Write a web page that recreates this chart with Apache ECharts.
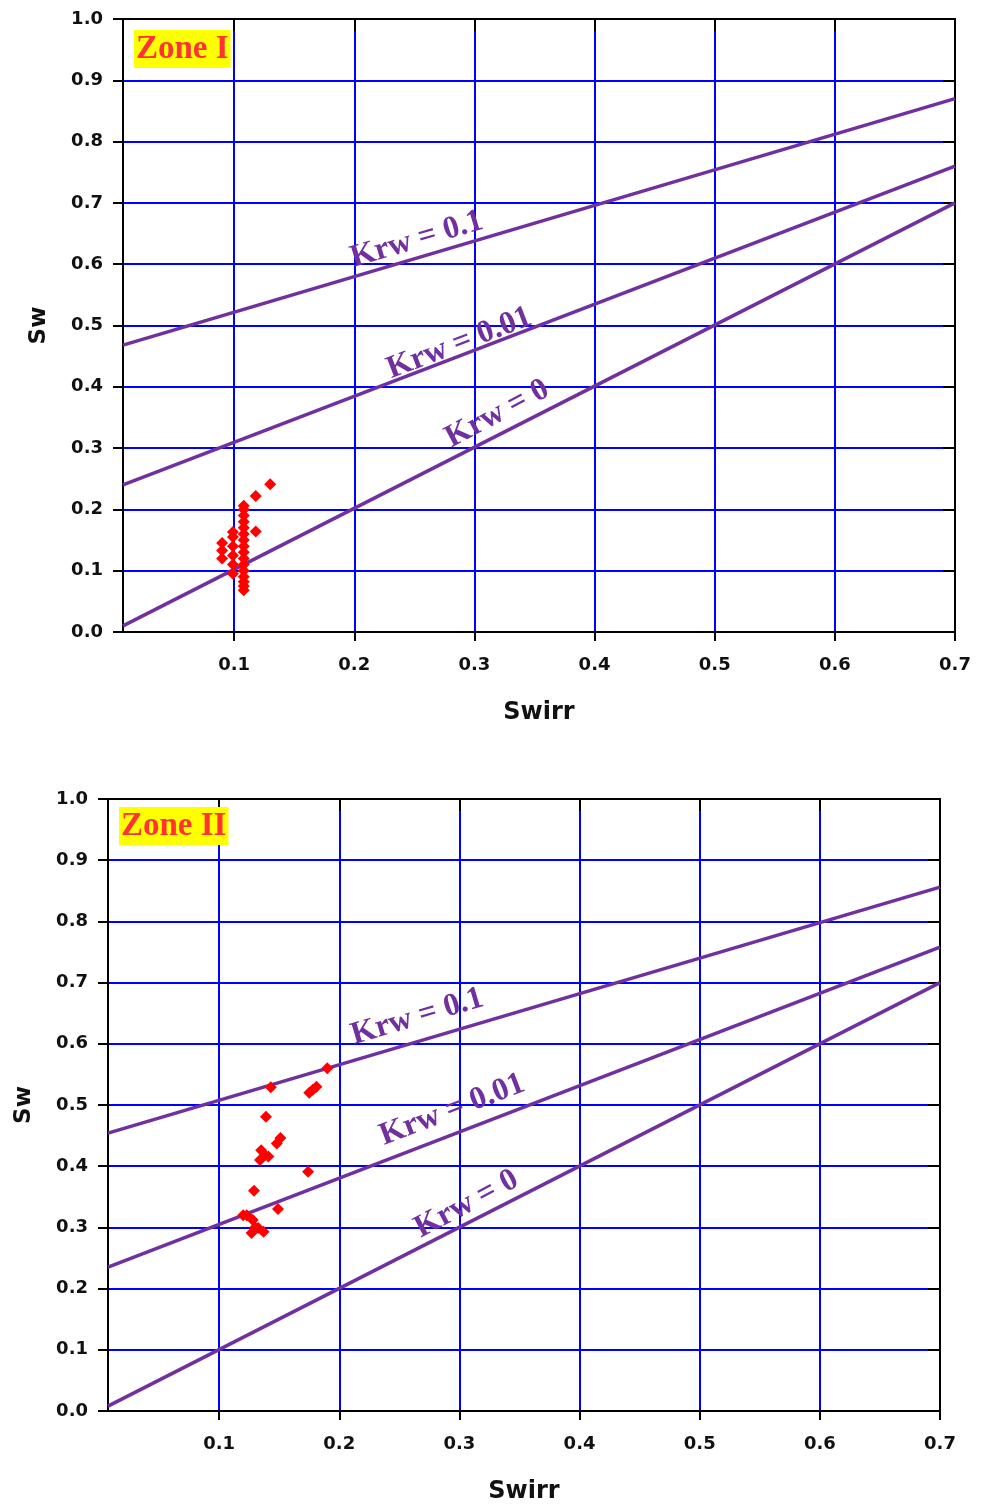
<!DOCTYPE html>
<html>
<head>
<meta charset="utf-8">
<script src="https://cdn.jsdelivr.net/npm/echarts@6/dist/echarts.min.js"></script>
<style>
  html, body { margin: 0; padding: 0; background: #fff; }
  #chart { width: 982px; height: 1504px; }
</style>
</head>
<body>
<div id="chart"></div>
<script>
// axis ranges
var xMin = 0.0075, xMax = 0.7;
var yMin = 0, yMax = 1;

// Zone I measured points [Swirr, Sw]
var zone1Points = [
    [0.108, 0.068], [0.108, 0.075], [0.108, 0.082], [0.108, 0.09], [0.108, 0.1], [0.108, 0.11],
    [0.108, 0.12], [0.108, 0.13], [0.108, 0.14], [0.108, 0.15], [0.108, 0.16], [0.108, 0.17],
    [0.108, 0.18], [0.108, 0.19], [0.108, 0.2], [0.108, 0.206],
    [0.099, 0.095], [0.099, 0.11], [0.099, 0.125], [0.099, 0.14], [0.099, 0.155], [0.099, 0.163],
    [0.09, 0.12], [0.09, 0.133], [0.09, 0.145],
    [0.118, 0.164], [0.118, 0.222], [0.13, 0.241]
];
// Zone II measured points
var zone2Points = [
    [0.12, 0.32], [0.123, 0.32], [0.128, 0.312], [0.1325, 0.299], [0.127, 0.291], [0.137, 0.293],
    [0.13, 0.30], [0.129, 0.36], [0.149, 0.33], [0.143, 0.529], [0.175, 0.52], [0.178, 0.525],
    [0.181, 0.53], [0.19, 0.56], [0.139, 0.481], [0.151, 0.446], [0.148, 0.437], [0.135, 0.426],
    [0.138, 0.418], [0.134, 0.41], [0.141, 0.416], [0.174, 0.391]
];

// Krw lines (end points)
var zone1Krw0 = [[0.0075, 0.01], [0.7, 0.70]];
var zone1Krw001 = [[0.0075, 0.24], [0.7, 0.76]];
var zone1Krw01 = [[0.0075, 0.468], [0.7, 0.87]];
var zone2Krw0 = [[0.0075, 0.008], [0.7, 0.70]];
var zone2Krw001 = [[0.0075, 0.235], [0.7, 0.758]];
var zone2Krw01 = [[0.0075, 0.454], [0.7, 0.856]];

// line captions [x, y, text]
var zone1Captions = [[0.252, 0.64, 'Krw = 0.1'], [0.2875, 0.471, 'Krw = 0.01'], [0.319, 0.356, 'Krw = 0']];
var zone2Captions = [[0.265, 0.644, 'Krw = 0.1'], [0.294, 0.492, 'Krw = 0.01'], [0.306, 0.338, 'Krw = 0']];
var captionAngles = [16.5, 21, 28];

var zoneNames = ['Zone I', 'Zone II'];

var purple = '#7030A0';
var blue = '#0000FF';
var tickFont = { color: '#111', fontFamily: 'DejaVu Sans', fontWeight: 'bold', fontSize: 18 };

// simple shallow merge
function extend(a, b) { for (var k in b) { a[k] = b[k]; } return a; }
function fmt(v) { return v.toFixed(1); }

function mainX(gi) {
    return {
        type: 'value', gridIndex: gi, min: xMin, max: xMax, splitNumber: 7,
        name: 'Swirr', nameLocation: 'middle', nameGap: 69,
        nameTextStyle: { color: '#111', fontFamily: 'DejaVu Sans', fontWeight: 'bold', fontSize: 24 },
        axisLine: { onZero: false, lineStyle: { color: '#000', width: 2 } },
        axisTick: { show: true, inside: false, length: 9, lineStyle: { color: '#000', width: 2 } },
        axisLabel: extend({ margin: 24, showMinLabel: false, formatter: fmt }, tickFont),
        splitLine: { show: true, lineStyle: { color: blue, width: 2 } }
    };
}
function mainY(gi) {
    return {
        type: 'value', gridIndex: gi, min: yMin, max: yMax, interval: 0.1,
        name: 'Sw', nameLocation: 'middle', nameGap: 72, nameRotate: 90,
        nameTextStyle: { color: '#111', fontFamily: 'DejaVu Sans', fontWeight: 'bold', fontSize: 23 },
        axisLine: { onZero: false, lineStyle: { color: '#000', width: 2 } },
        axisTick: { show: true, inside: false, length: 10, lineStyle: { color: '#000', width: 2 } },
        axisLabel: extend({ margin: 20, formatter: fmt }, tickFont),
        splitLine: { show: true, lineStyle: { color: blue, width: 2 } }
    };
}
function frameX(gi) {
    return {
        type: 'value', gridIndex: gi, min: xMin, max: xMax, splitNumber: 7, position: 'top',
        axisLine: { onZero: false, lineStyle: { color: '#000', width: 2 } },
        axisTick: { show: true, inside: true, length: 12, lineStyle: { color: '#000', width: 2 } },
        axisLabel: { show: false }, splitLine: { show: false }
    };
}
function frameY(gi) {
    return {
        type: 'value', gridIndex: gi, min: yMin, max: yMax, interval: 0.1, position: 'right',
        axisLine: { onZero: false, lineStyle: { color: '#000', width: 2 } },
        axisTick: { show: true, inside: true, length: 12, lineStyle: { color: '#000', width: 2 } },
        axisLabel: { show: false }, splitLine: { show: false }
    };
}

function krwLine(data, xi, yi) {
    return {
        type: 'line', xAxisIndex: xi, yAxisIndex: yi, data: data, symbol: 'none', silent: true,
        lineStyle: { color: purple, width: 3.5 }, z: 3
    };
}
function pointsSeries(data, xi, yi) {
    return {
        type: 'scatter', xAxisIndex: xi, yAxisIndex: yi, data: data, symbol: 'diamond',
        symbolSize: 12, itemStyle: { color: '#FF0000', opacity: 1 }, z: 4
    };
}
function captionSeries(caps, xi, yi) {
    return {
        type: 'scatter', xAxisIndex: xi, yAxisIndex: yi, symbolSize: 0, z: 5, silent: true,
        itemStyle: { opacity: 1 },
        data: caps.map(function (c, i) {
            return {
                value: [c[0], c[1]],
                label: {
                    show: true, position: 'inside', formatter: c[2], rotate: captionAngles[i],
                    color: purple, opacity: 1, fontFamily: 'Liberation Serif', fontWeight: 'bold', fontSize: 32
                }
            };
        })
    };
}

var chart = echarts.init(document.getElementById('chart'));
var zoneStyle = { color: '#FF3333', fontFamily: 'Liberation Serif', fontWeight: 'bold', fontSize: 33 };
var option = {
    animation: false,
    backgroundColor: '#fff',
    title: [
        { text: zoneNames[0], left: 134, top: 30, padding: [3, 2, 2, 2], backgroundColor: '#FFFF00', textStyle: zoneStyle },
        { text: zoneNames[1], left: 119, top: 807, padding: [3, 2, 2, 2], backgroundColor: '#FFFF00', textStyle: zoneStyle }
    ],
    grid: [
        { left: 123, top: 19, width: 832, height: 613, outerBoundsMode: 'none', containLabel: false },
        { left: 108, top: 799, width: 832, height: 612, outerBoundsMode: 'none', containLabel: false }
    ],
    xAxis: [mainX(0), frameX(0), mainX(1), frameX(1)],
    yAxis: [mainY(0), frameY(0), mainY(1), frameY(1)],
    series: [
        krwLine(zone1Krw0, 0, 0), krwLine(zone1Krw001, 0, 0), krwLine(zone1Krw01, 0, 0),
        pointsSeries(zone1Points, 0, 0), captionSeries(zone1Captions, 0, 0),
        krwLine(zone2Krw0, 2, 2), krwLine(zone2Krw001, 2, 2), krwLine(zone2Krw01, 2, 2),
        pointsSeries(zone2Points, 2, 2), captionSeries(zone2Captions, 2, 2)
    ]
};
chart.setOption(option);
</script>
</body>
</html>
